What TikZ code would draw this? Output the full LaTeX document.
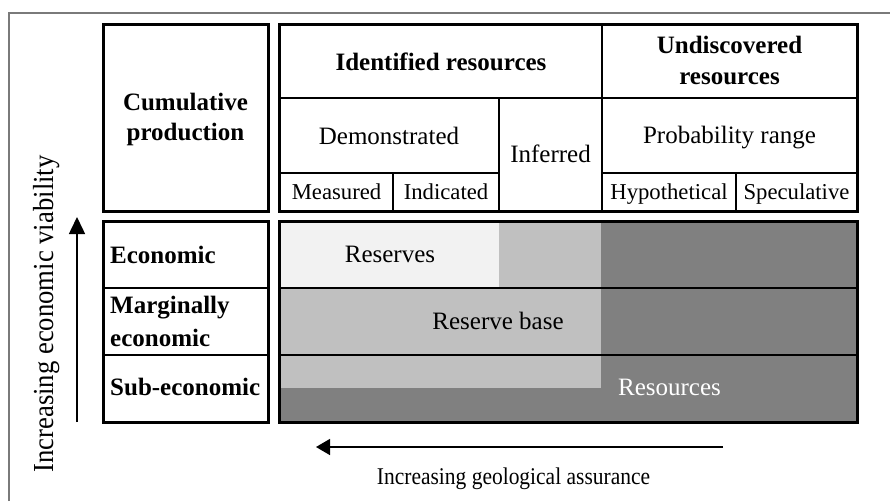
\documentclass[tikz,border=0pt]{standalone}
\usepackage{fontspec}
\setmainfont{Liberation Serif}
\usetikzlibrary{arrows.meta}
\definecolor{lightfill}{HTML}{F2F2F2}
\definecolor{midfill}{HTML}{C0C0C0}
\definecolor{darkfill}{HTML}{808080}
\definecolor{framegray}{HTML}{7A7A7A}
\begin{document}
\begin{tikzpicture}[x=1pt,y=-1pt,
  cellline/.style={line width=2.2pt},
  boxline/.style={line width=3pt},
  txt/.style={inner sep=0pt,font=\fontsize{25}{30}\selectfont},
  txtb/.style={inner sep=0pt,font=\fontsize{25}{30}\selectfont\bfseries},
  txts/.style={inner sep=0pt,font=\fontsize{22.7}{27}\selectfont},
  axislbl/.style={inner sep=0pt},
  axisarrow/.style={line width=1.5pt}
]
\useasboundingbox (0,0) rectangle (890,501);
\fill[white] (0,0) rectangle (890,501);
\draw[framegray, line width=2pt] (9,501) -- (9,13) -- (890,13);

% Cumulative production box
\draw[boxline] (103,24) rectangle (268,211);
\node[txtb, align=center, font=\fontsize{25}{30}\selectfont\bfseries] (cum) at (185.5,119) {Cumulative\\production};

% Header table
\draw[cellline] (279,98) -- (857,98);
\draw[cellline] (602,24) -- (602,211);
\draw[cellline] (499,98) -- (499,211);
\draw[cellline] (279,173) -- (499,173);
\draw[cellline] (602,173) -- (857,173);
\draw[cellline] (393,173) -- (393,211);
\draw[cellline] (736,173) -- (736,211);
\draw[boxline] (279,24) rectangle (857,211);

\node[txtb, anchor=base] (ident) at (441,70) {Identified resources};
\node[txtb, align=center, font=\fontsize{25}{31.5}\selectfont\bfseries] (undisc) at (729.5,60.7) {Undiscovered\\resources};
\node[txt, anchor=base] (demo) at (389,144) {Demonstrated};
\node[txt, anchor=base] (infer) at (550.5,162) {Inferred};
\node[txt, anchor=base] (prob) at (729.5,143.5) {Probability range};
\node[txts, anchor=base] (meas) at (336.5,199.3) {Measured};
\node[txts, anchor=base] (indic) at (446,199.3) {Indicated};
\node[txts, anchor=base] (hypo) at (669,199.3) {Hypothetical};
\node[txts, anchor=base] (spec) at (796.5,199.3) {Speculative};

% Left economic classes
\draw[cellline] (103,288) -- (268,288);
\draw[cellline] (103,355) -- (268,355);
\draw[boxline] (103,221) rectangle (268,422);
\node[txtb, anchor=base west] (econ) at (110,263.3) {Economic};
\node[txtb, anchor=west, align=left, font=\fontsize{25}{33}\selectfont\bfseries] (marg) at (110,321.4) {Marginally\\economic};
\node[txtb, anchor=base west] (subec) at (110,395) {Sub-economic};

% Body fills
\fill[darkfill] (279,221) rectangle (857,422);
\fill[midfill] (279,221) rectangle (601,388);
\fill[lightfill] (279,221) rectangle (499,288);
\draw[cellline] (279,288) -- (857,288);
\draw[cellline] (279,355) -- (857,355);
\draw[boxline] (279,221) rectangle (857,422);

\node[txt, anchor=base] (reserves) at (390,262.3) {Reserves};
\node[txt, anchor=base] (rbase) at (498,329) {Reserve base};
\node[txt, anchor=base, text=white] (resources) at (669.5,395.7) {Resources};

% Axes
\coordinate (vstart) at (77,422);
\coordinate (vend) at (77,217);
\draw[axisarrow, -{Triangle[length=17pt,width=16pt]}] (vstart) -- (vend);
\node[axislbl, rotate=90, xscale=0.92, anchor=base, font=\fontsize{29}{32}\selectfont] (vlabel) at (53,314) {Increasing economic viability};

\coordinate (hstart) at (723,447);
\coordinate (hend) at (316,447);
\draw[axisarrow, -{Triangle[length=14pt,width=16pt]}] (hstart) -- (hend);
\node[axislbl, xscale=0.895, anchor=base, font=\fontsize{24}{28}\selectfont] (hlabel) at (513.5,484) {Increasing geological assurance};
\end{tikzpicture}
\end{document}
